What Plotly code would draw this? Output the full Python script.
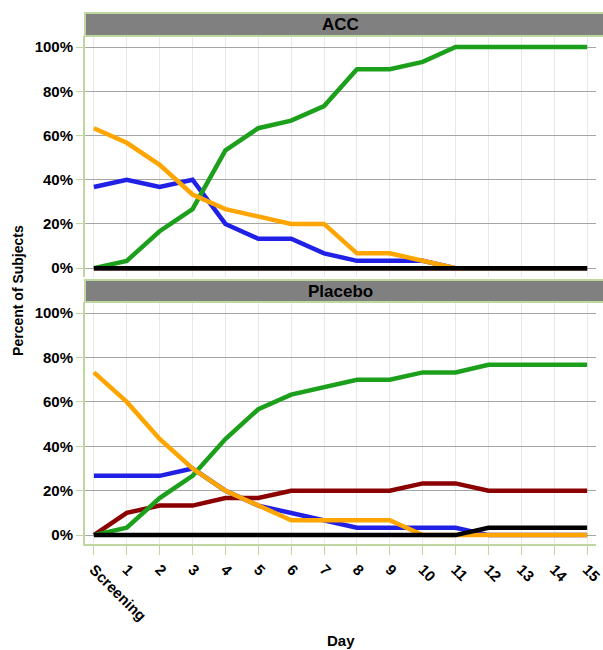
import plotly.graph_objects as go

# Visit days (0 = Screening)
days = list(range(16))
day_labels = ["Screening"] + [str(d) for d in range(1, 16)]
pct_ticks = [0, 20, 40, 60, 80, 100]
pct_labels = [f"{v}%" for v in pct_ticks]

# Percent of subjects per category, ACC arm
acc_blue = [36.7, 40.0, 36.7, 40.0, 20.0, 13.3, 13.3, 6.7, 3.3, 3.3, 3.3, 0, 0, 0, 0, 0]
acc_green = [0, 3.3, 16.7, 26.7, 53.3, 63.3, 66.7, 73.3, 90.0, 90.0, 93.3, 100, 100, 100, 100, 100]
acc_orange = [63.3, 56.7, 46.7, 33.3, 26.7, 23.3, 20.0, 20.0, 6.7, 6.7, 3.3, 0, 0, 0, 0, 0]
acc_red = [0] * 16
acc_black = [0] * 16

# Percent of subjects per category, Placebo arm
pbo_blue = [26.7, 26.7, 26.7, 30.0, 20.0, 13.3, 10.0, 6.7, 3.3, 3.3, 3.3, 3.3, 0, 0, 0, 0]
pbo_green = [0, 3.3, 16.7, 26.7, 43.3, 56.7, 63.3, 66.7, 70.0, 70.0, 73.3, 73.3, 76.7, 76.7, 76.7, 76.7]
pbo_orange = [73.3, 60.0, 43.3, 30.0, 20.0, 13.3, 6.7, 6.7, 6.7, 6.7, 0, 0, 0, 0, 0, 0]
pbo_red = [0, 10.0, 13.3, 13.3, 16.7, 16.7, 20.0, 20.0, 20.0, 20.0, 23.3, 23.3, 20.0, 20.0, 20.0, 20.0]
pbo_black = [0, 0, 0, 0, 0, 0, 0, 0, 0, 0, 0, 0, 3.3, 3.3, 3.3, 3.3]

panels = ["ACC", "Placebo"]
colors = {
    "red": "rgb(139,0,0)",
    "blue": "rgb(32,32,230)",
    "green": "rgb(28,160,28)",
    "orange": "rgb(255,165,0)",
    "black": "rgb(0,0,0)",
}

W, H = 603, 650
M_L, M_R, M_T, M_B = 85, 0, 13, 106
PH = H - M_T - M_B


def py(px):
    """Convert a pixel row to paper y coordinate."""
    return (H - M_B - px) / PH


fig = go.Figure()

series = [
    (acc_red, acc_blue, acc_green, acc_orange, acc_black),
    (pbo_red, pbo_blue, pbo_green, pbo_orange, pbo_black),
]
order = ["red", "blue", "green", "orange", "black"]
for i, vals in enumerate(series):
    xa = "x" if i == 0 else "x2"
    ya = "y" if i == 0 else "y2"
    for name, v in zip(order, vals):
        fig.add_trace(go.Scatter(
            x=days, y=v, mode="lines", xaxis=xa, yaxis=ya,
            line=dict(color=colors[name], width=4.5),
            showlegend=False, hoverinfo="skip",
        ))

axis_green = "rgb(190,214,160)"
tick_font = dict(family="Liberation Sans, Arial", size=15, color="black", weight="bold")

common_x = dict(
    range=[-0.27, 15.27], tickvals=days, showgrid=True,
    gridcolor="rgb(232,232,232)", gridwidth=1, zeroline=False,
)
common_y = dict(
    range=[-4, 105], tickvals=pct_ticks, ticktext=pct_labels,
    showgrid=True, gridcolor="rgb(165,165,165)", gridwidth=1, zeroline=False,
    showline=True, linecolor=axis_green, linewidth=2,
    ticks="outside", ticklen=7, tickcolor=axis_green, tickwidth=1,
    tickfont=tick_font,
)

top_dom = [py(277), py(36)]
bot_dom = [0, py(302)]

fig.update_layout(
    width=W, height=H,
    margin=dict(l=M_L, r=M_R, t=M_T, b=M_B),
    plot_bgcolor="white", paper_bgcolor="white",
    xaxis=dict(**common_x, domain=[0, 1], anchor="y", showticklabels=False,
               showline=False, ticks=""),
    yaxis=dict(**common_y, domain=top_dom, anchor="x"),
    xaxis2=dict(**common_x, domain=[0, 1], anchor="y2", ticktext=day_labels,
                tickangle=45, tickfont=tick_font, showline=True,
                ticklabeloverflow="allow",
                linecolor=axis_green, linewidth=2, ticks="outside",
                ticklen=9, tickcolor=axis_green, tickwidth=1),
    yaxis2=dict(**common_y, domain=bot_dom, anchor="x2"),
)

# Panel header strips
strips = [(py(36), 1.0, panels[0]), (py(302), py(280), panels[1])]
for y0, y1, label in strips:
    fig.add_shape(type="rect", xref="paper", yref="paper", x0=0, x1=1.02,
                  y0=y0, y1=y1, fillcolor="rgb(128,128,128)",
                  line=dict(color=axis_green, width=2), layer="above")
    fig.add_annotation(x=0.5, y=(y0 + y1) / 2, xref="paper", yref="paper",
                       text=label, showarrow=False, xanchor="center", yanchor="middle",
                       font=dict(family="Liberation Sans, Arial", size=17,
                                 color="black", weight="bold"))

# Axis titles
fig.add_annotation(x=(17 - M_L) / (W - M_L - M_R), y=py(290), xref="paper", yref="paper",
                   text="Percent of Subjects", textangle=-90, showarrow=False,
                   xanchor="center", yanchor="middle",
                   font=dict(family="Liberation Sans, Arial", size=14,
                             color="black", weight="bold"))
fig.add_annotation(x=(345 - M_L) / (W - M_L - M_R), y=py(640), xref="paper", yref="paper",
                   text="Day", showarrow=False, xanchor="center", yanchor="middle",
                   font=dict(family="Liberation Sans, Arial", size=15,
                             color="black", weight="bold"))

fig.write_html("out.html")
